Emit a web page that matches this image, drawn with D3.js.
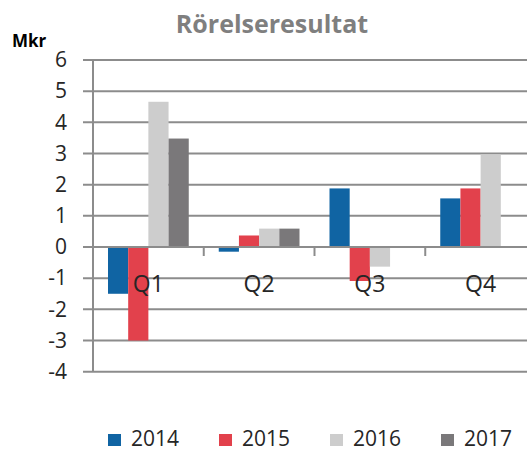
<!DOCTYPE html>
<html>
<head>
<meta charset="utf-8">
<script src="https://cdn.jsdelivr.net/npm/d3@7"></script>
<style>
  body { margin: 0; background: #fff; }
  svg { display: block; font-family: "Open Sans", sans-serif; }
</style>
</head>
<body>
<svg width="527" height="452"></svg>
<script>
// data
var quarters = ["Q1", "Q2", "Q3", "Q4"];
var years = ["2014", "2015", "2016", "2017"];
var v2014 = [-1.5, -0.15, 1.88, 1.56];
var v2015 = [-3.0, 0.37, -1.09, 1.88];
var v2016 = [4.66, 0.59, -0.63, 2.97];
var v2017 = [3.48, 0.59, 0, 0];
var yTicks = [-4, -3, -2, -1, 0, 1, 2, 3, 4, 5, 6];
var colors = ["#1064a3", "#e2414c", "#cdcdcd", "#7a787a"];

var series = [v2014, v2015, v2016, v2017];
var margin = {top: 60, left: 93};
var plotH = 311.7, plotW = 443;

var svg = d3.select("svg");
var g = svg.append("g")
  .attr("transform", "translate(" + margin.left + "," + margin.top + ")");

var xScale = d3.scaleBand().domain(quarters).range([0, plotW]);
var xInner = d3.scaleBand().domain(years).range([15, xScale.bandwidth() - 15]);
var yScale = d3.scaleLinear().domain([-4, 6]).range([plotH, 0]);

// gridlines
g.selectAll(".grid")
  .data(yTicks)
  .enter().append("line")
  .attr("x1", -10)
  .attr("x2", plotW)
  .attr("y1", function(d) { return yScale(d); })
  .attr("y2", function(d) { return yScale(d); })
  .attr("stroke", "#8c8c8c")
  .attr("stroke-width", 2);

// y axis
var yAxis = g.append("g")
  .call(d3.axisLeft(yScale).tickValues(yTicks).tickSize(0).tickPadding(26)
    .tickFormat(function(d) { return String(d); }));
yAxis.select(".domain").remove();
yAxis.selectAll("text")
  .attr("font-size", "21px")
  .attr("fill", "#262626")
  .attr("font-family", "Open Sans, sans-serif");

g.append("line")
  .attr("x1", 0).attr("x2", 0)
  .attr("y1", 0).attr("y2", plotH)
  .attr("stroke", "#8c8c8c")
  .attr("stroke-width", 2);

// bars
var groups = g.selectAll(".q")
  .data(quarters)
  .enter().append("g")
  .attr("transform", function(d) { return "translate(" + xScale(d) + ",0)"; });

groups.selectAll("rect")
  .data(function(d, i) {
    return years.map(function(y, j) { return {year: y, value: series[j][i], idx: j}; });
  })
  .enter().append("rect")
  .attr("x", function(d) { return xInner(d.year); })
  .attr("width", xInner.bandwidth())
  .attr("y", function(d) { return yScale(Math.max(0, d.value)); })
  .attr("height", function(d) { return Math.abs(yScale(d.value) - yScale(0)); })
  .attr("fill", function(d) { return colors[d.idx]; });

// zero axis with category ticks
g.append("line")
  .attr("x1", 0).attr("x2", plotW)
  .attr("y1", yScale(0)).attr("y2", yScale(0))
  .attr("stroke", "#8c8c8c")
  .attr("stroke-width", 2);

g.selectAll(".ctick")
  .data(quarters.slice(1))
  .enter().append("line")
  .attr("x1", function(d) { return xScale(d); })
  .attr("x2", function(d) { return xScale(d); })
  .attr("y1", yScale(0))
  .attr("y2", yScale(0) + 9)
  .attr("stroke", "#8c8c8c")
  .attr("stroke-width", 2);

g.selectAll(".clabel")
  .data(quarters)
  .enter().append("text")
  .attr("x", function(d) { return xScale(d) + xScale.bandwidth() / 2; })
  .attr("y", yScale(0) + 45)
  .attr("text-anchor", "middle")
  .attr("font-size", "23px")
  .attr("fill", "#262626")
  .text(function(d) { return d; });

// title and unit
svg.append("text")
  .attr("x", 272)
  .attr("y", 33)
  .attr("text-anchor", "middle")
  .attr("font-size", "25px")
  .attr("font-weight", "bold")
  .attr("fill", "#7f7f7f")
  .text("Rörelseresultat");

svg.append("text")
  .attr("x", 12)
  .attr("y", 47)
  .attr("font-size", "17px")
  .attr("font-weight", "bold")
  .attr("fill", "#000")
  .text("Mkr");

// legend
var legend = svg.selectAll(".leg")
  .data(years)
  .enter().append("g")
  .attr("transform", function(d, i) { return "translate(" + (108 + i * 111) + ",434)"; });

legend.append("rect")
  .attr("width", 13)
  .attr("height", 12)
  .attr("fill", function(d, i) { return colors[i]; });

legend.append("text")
  .attr("x", 23)
  .attr("y", 12)
  .attr("font-size", "21px")
  .attr("fill", "#262626")
  .text(function(d) { return d; });
</script>
</body>
</html>
